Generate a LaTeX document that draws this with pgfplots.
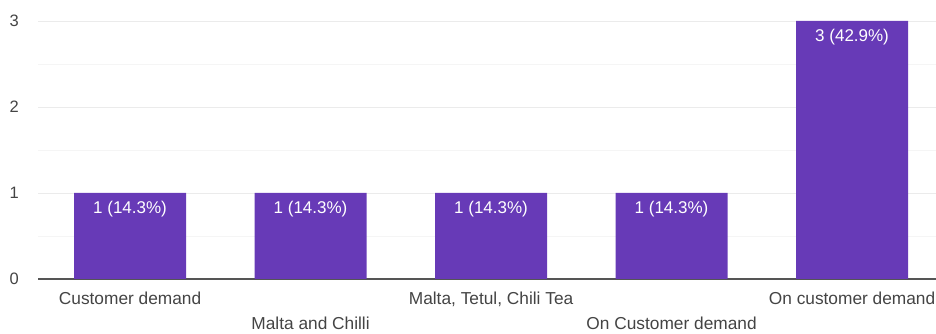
\documentclass[border=0pt]{standalone}
\usepackage{pgfplots}
\pgfplotsset{compat=1.18}
\usepackage{fontspec}
\setmainfont{Liberation Sans}
\definecolor{barpurple}{HTML}{673AB7}
\definecolor{labgray}{HTML}{444444}
\definecolor{gridc}{HTML}{EBEBEB}
\definecolor{minorc}{HTML}{F5F5F5}
\definecolor{axisc}{HTML}{555555}
\begin{document}
\begin{tikzpicture}[x=1pt,y=1pt]
\path[use as bounding box] (0,0) rectangle (936,334);
\begin{axis}[
  at={(38pt,55pt)}, anchor=south west,
  scale only axis, width=898pt, height=258pt,
  xmin=-0.51, xmax=4.465, ymin=0, ymax=3,
  axis x line*=bottom, axis y line*=left,
  y axis line style={draw=none},
  x axis line style={axisc, line width=1.3pt, -},
  tick style={draw=none},
  ytick={0,1,2,3},
  minor ytick={0.5,1.5,2.5},
  ymajorgrids, yminorgrids,
  major grid style={gridc, line width=0.9pt},
  minor grid style={minorc, line width=0.9pt},
  yticklabel style={font=\fontsize{16.5}{19}\selectfont, text=labgray, anchor=east, inner sep=0pt, xshift=-19pt},
  xtick={0,2,4},
  xticklabels={Customer demand, {Malta, Tetul, Chili Tea}, On customer demand},
  extra x ticks={1,3},
  extra x tick labels={Malta and Chilli, On Customer demand},
  extra x tick style={xticklabel style={yshift=-25pt}},
  xticklabel style={font=\fontsize{17.3}{20}\selectfont, text=labgray, anchor=north, inner sep=0pt, yshift=-12.5pt},
  /pgf/number format/assume math mode=true,
]
\addplot[ybar, fill=barpurple, draw=none, bar width=112pt,
  nodes near coords, point meta=explicit symbolic,
  every node near coord/.append style={anchor=north, inner sep=0pt, yshift=-7.5pt, text=white, font=\fontsize{17}{20}\selectfont}]
  coordinates {
  (0,1) [1 (14.3\%)]
  (1,1) [1 (14.3\%)]
  (2,1) [1 (14.3\%)]
  (3,1) [1 (14.3\%)]
  (4,3) [3 (42.9\%)]
  };
\end{axis}
\end{tikzpicture}
\end{document}
